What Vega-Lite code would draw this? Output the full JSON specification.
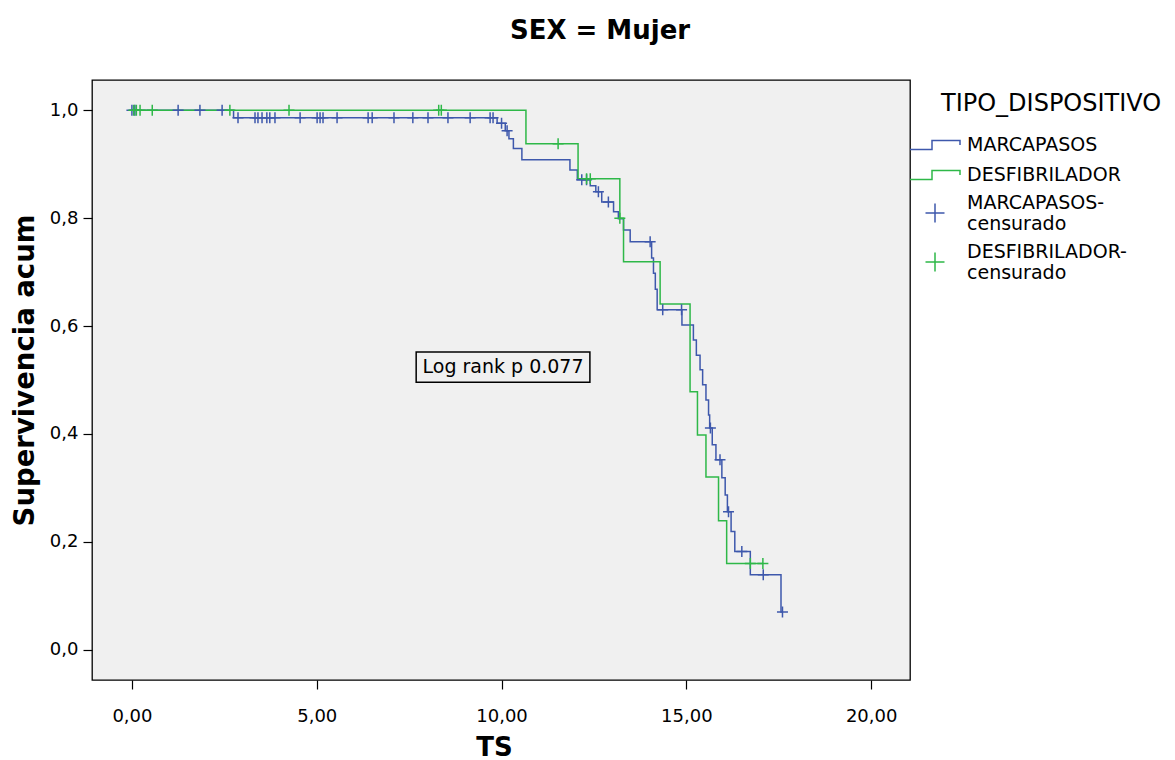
{
  "$schema": "https://vega.github.io/schema/vega-lite/v6.json",
  "width": 818,
  "height": 600,
  "autosize": {"type": "none"},
  "padding": {"left": 92, "top": 80, "right": 265, "bottom": 80},
  "background": "white",
  "config": {
    "font": "DejaVu Sans",
    "view": {"fill": "#f0f0f0", "stroke": "#000000", "strokeWidth": 1.3},
    "axis": {
      "grid": false, "domain": false, "tickColor": "#000000", "tickSize": 9, "tickWidth": 1.2,
      "labelColor": "#000000", "labelFont": "DejaVu Sans", "labelFontSize": 18,
      "titleFont": "DejaVu Sans", "titleFontWeight": "bold", "titleFontSize": 26, "titleColor": "#000000"
    },
    "legend": {
      "orient": "none", "legendX": 849, "legendY": 12,
      "titleFontSize": 24, "titleFontWeight": "normal", "titleColor": "#000000", "titlePadding": 18, "titleLimit": 400,
      "labelFontSize": 19, "labelColor": "#000000", "labelLimit": 300, "labelOffset": 21,
      "symbolSize": 400, "symbolStrokeWidth": 1.5, "symbolOffset": -17, "rowPadding": 9
    }
  },
  "title": {"text": "SEX = Mujer", "fontSize": 26, "fontWeight": "bold", "font": "DejaVu Sans", "color": "#000000", "frame": "group", "dx": 99, "offset": 36},
  "datasets": {
    "pasos": [
      {"serie": "MARCAPASOS", "t": 0, "s": 1.0},
      {"serie": "MARCAPASOS", "t": 2.75, "s": 0.986},
      {"serie": "MARCAPASOS", "t": 9.88, "s": 0.976},
      {"serie": "MARCAPASOS", "t": 10.1, "s": 0.962},
      {"serie": "MARCAPASOS", "t": 10.2, "s": 0.947},
      {"serie": "MARCAPASOS", "t": 10.32, "s": 0.929},
      {"serie": "MARCAPASOS", "t": 10.55, "s": 0.908},
      {"serie": "MARCAPASOS", "t": 11.85, "s": 0.889},
      {"serie": "MARCAPASOS", "t": 12.05, "s": 0.871},
      {"serie": "MARCAPASOS", "t": 12.4, "s": 0.86},
      {"serie": "MARCAPASOS", "t": 12.55, "s": 0.849},
      {"serie": "MARCAPASOS", "t": 12.71, "s": 0.83},
      {"serie": "MARCAPASOS", "t": 13.03, "s": 0.812},
      {"serie": "MARCAPASOS", "t": 13.16, "s": 0.799},
      {"serie": "MARCAPASOS", "t": 13.3, "s": 0.778},
      {"serie": "MARCAPASOS", "t": 13.48, "s": 0.756},
      {"serie": "MARCAPASOS", "t": 14.06, "s": 0.726},
      {"serie": "MARCAPASOS", "t": 14.11, "s": 0.698},
      {"serie": "MARCAPASOS", "t": 14.16, "s": 0.668},
      {"serie": "MARCAPASOS", "t": 14.21, "s": 0.63},
      {"serie": "MARCAPASOS", "t": 14.88, "s": 0.602},
      {"serie": "MARCAPASOS", "t": 15.19, "s": 0.574},
      {"serie": "MARCAPASOS", "t": 15.27, "s": 0.546},
      {"serie": "MARCAPASOS", "t": 15.37, "s": 0.519},
      {"serie": "MARCAPASOS", "t": 15.44, "s": 0.491},
      {"serie": "MARCAPASOS", "t": 15.53, "s": 0.463},
      {"serie": "MARCAPASOS", "t": 15.6, "s": 0.435},
      {"serie": "MARCAPASOS", "t": 15.63, "s": 0.411},
      {"serie": "MARCAPASOS", "t": 15.7, "s": 0.38},
      {"serie": "MARCAPASOS", "t": 15.8, "s": 0.352},
      {"serie": "MARCAPASOS", "t": 15.96, "s": 0.319},
      {"serie": "MARCAPASOS", "t": 16.05, "s": 0.287},
      {"serie": "MARCAPASOS", "t": 16.11, "s": 0.256},
      {"serie": "MARCAPASOS", "t": 16.21, "s": 0.219},
      {"serie": "MARCAPASOS", "t": 16.31, "s": 0.182},
      {"serie": "MARCAPASOS", "t": 16.73, "s": 0.139},
      {"serie": "MARCAPASOS", "t": 17.56, "s": 0.07},
      {"serie": "MARCAPASOS", "t": 17.6, "s": 0.07},
      {"serie": "DESFIBRILADOR", "t": 0, "s": 1.0},
      {"serie": "DESFIBRILADOR", "t": 10.66, "s": 0.938},
      {"serie": "DESFIBRILADOR", "t": 12.07, "s": 0.873},
      {"serie": "DESFIBRILADOR", "t": 13.2, "s": 0.8},
      {"serie": "DESFIBRILADOR", "t": 13.3, "s": 0.719},
      {"serie": "DESFIBRILADOR", "t": 14.29, "s": 0.641},
      {"serie": "DESFIBRILADOR", "t": 15.1, "s": 0.478},
      {"serie": "DESFIBRILADOR", "t": 15.3, "s": 0.398},
      {"serie": "DESFIBRILADOR", "t": 15.53, "s": 0.32},
      {"serie": "DESFIBRILADOR", "t": 15.87, "s": 0.239},
      {"serie": "DESFIBRILADOR", "t": 16.09, "s": 0.16},
      {"serie": "DESFIBRILADOR", "t": 17.07, "s": 0.16}
    ],
    "censuras": [
      {"serie": "MARCAPASOS-censurado", "t": 0.0, "s": 1.0},
      {"serie": "MARCAPASOS-censurado", "t": 0.08, "s": 1.0},
      {"serie": "MARCAPASOS-censurado", "t": 1.25, "s": 1.0},
      {"serie": "MARCAPASOS-censurado", "t": 1.84, "s": 1.0},
      {"serie": "MARCAPASOS-censurado", "t": 2.44, "s": 1.0},
      {"serie": "MARCAPASOS-censurado", "t": 2.87, "s": 0.986},
      {"serie": "MARCAPASOS-censurado", "t": 3.33, "s": 0.986},
      {"serie": "MARCAPASOS-censurado", "t": 3.41, "s": 0.986},
      {"serie": "MARCAPASOS-censurado", "t": 3.52, "s": 0.986},
      {"serie": "MARCAPASOS-censurado", "t": 3.65, "s": 0.986},
      {"serie": "MARCAPASOS-censurado", "t": 3.73, "s": 0.986},
      {"serie": "MARCAPASOS-censurado", "t": 3.87, "s": 0.986},
      {"serie": "MARCAPASOS-censurado", "t": 4.55, "s": 0.986},
      {"serie": "MARCAPASOS-censurado", "t": 5.01, "s": 0.986},
      {"serie": "MARCAPASOS-censurado", "t": 5.09, "s": 0.986},
      {"serie": "MARCAPASOS-censurado", "t": 5.17, "s": 0.986},
      {"serie": "MARCAPASOS-censurado", "t": 5.55, "s": 0.986},
      {"serie": "MARCAPASOS-censurado", "t": 6.39, "s": 0.986},
      {"serie": "MARCAPASOS-censurado", "t": 6.5, "s": 0.986},
      {"serie": "MARCAPASOS-censurado", "t": 7.09, "s": 0.986},
      {"serie": "MARCAPASOS-censurado", "t": 7.6, "s": 0.986},
      {"serie": "MARCAPASOS-censurado", "t": 8.01, "s": 0.986},
      {"serie": "MARCAPASOS-censurado", "t": 8.55, "s": 0.986},
      {"serie": "MARCAPASOS-censurado", "t": 9.15, "s": 0.986},
      {"serie": "MARCAPASOS-censurado", "t": 9.69, "s": 0.986},
      {"serie": "MARCAPASOS-censurado", "t": 9.77, "s": 0.986},
      {"serie": "MARCAPASOS-censurado", "t": 10.0, "s": 0.976},
      {"serie": "MARCAPASOS-censurado", "t": 10.15, "s": 0.962},
      {"serie": "MARCAPASOS-censurado", "t": 12.17, "s": 0.871},
      {"serie": "MARCAPASOS-censurado", "t": 12.3, "s": 0.871},
      {"serie": "MARCAPASOS-censurado", "t": 12.62, "s": 0.849},
      {"serie": "MARCAPASOS-censurado", "t": 12.89, "s": 0.83},
      {"serie": "MARCAPASOS-censurado", "t": 14.02, "s": 0.756},
      {"serie": "MARCAPASOS-censurado", "t": 14.36, "s": 0.63},
      {"serie": "MARCAPASOS-censurado", "t": 14.87, "s": 0.63},
      {"serie": "MARCAPASOS-censurado", "t": 15.65, "s": 0.411},
      {"serie": "MARCAPASOS-censurado", "t": 15.91, "s": 0.352},
      {"serie": "MARCAPASOS-censurado", "t": 16.14, "s": 0.256},
      {"serie": "MARCAPASOS-censurado", "t": 16.5, "s": 0.182},
      {"serie": "MARCAPASOS-censurado", "t": 17.08, "s": 0.139},
      {"serie": "MARCAPASOS-censurado", "t": 17.6, "s": 0.07},
      {"serie": "DESFIBRILADOR-censurado", "t": 0.05, "s": 1.0},
      {"serie": "DESFIBRILADOR-censurado", "t": 0.12, "s": 1.0},
      {"serie": "DESFIBRILADOR-censurado", "t": 0.22, "s": 1.0},
      {"serie": "DESFIBRILADOR-censurado", "t": 0.55, "s": 1.0},
      {"serie": "DESFIBRILADOR-censurado", "t": 2.65, "s": 1.0},
      {"serie": "DESFIBRILADOR-censurado", "t": 4.25, "s": 1.0},
      {"serie": "DESFIBRILADOR-censurado", "t": 8.3, "s": 1.0},
      {"serie": "DESFIBRILADOR-censurado", "t": 8.37, "s": 1.0},
      {"serie": "DESFIBRILADOR-censurado", "t": 11.53, "s": 0.938},
      {"serie": "DESFIBRILADOR-censurado", "t": 12.3, "s": 0.873},
      {"serie": "DESFIBRILADOR-censurado", "t": 12.4, "s": 0.873},
      {"serie": "DESFIBRILADOR-censurado", "t": 13.2, "s": 0.8},
      {"serie": "DESFIBRILADOR-censurado", "t": 16.73, "s": 0.16},
      {"serie": "DESFIBRILADOR-censurado", "t": 17.07, "s": 0.16}
    ],
    "nota": [{"texto": "Log rank p 0.077"}]
  },
  "layer": [
    {
      "data": {"name": "pasos"},
      "mark": {"type": "line", "interpolate": "step-after", "strokeWidth": 1.5},
      "encoding": {
        "x": {
          "field": "t", "type": "quantitative",
          "scale": {"domain": [-1.08, 21.05], "nice": false, "zero": false},
          "axis": {"values": [0, 5, 10, 15, 20], "format": ".2f", "labelExpr": "replace(datum.label, '.', ',')", "labelPadding": 18, "title": "TS", "titlePadding": 9, "titleX": 402}
        },
        "y": {
          "field": "s", "type": "quantitative",
          "scale": {"domain": [-0.056, 1.056], "nice": false, "zero": false},
          "axis": {"values": [0, 0.2, 0.4, 0.6, 0.8, 1.0], "format": ".1f", "labelExpr": "replace(datum.label, '.', ',')", "labelPadding": 5, "title": "Supervivencia acum", "titlePadding": 10, "titleFontSize": 27.5, "titleY": 290}
        },
        "color": {
          "field": "serie", "type": "nominal", "title": "TIPO_DISPOSITIVO",
          "scale": {"domain": ["MARCAPASOS", "DESFIBRILADOR", "MARCAPASOS-censurado", "DESFIBRILADOR-censurado"], "range": ["#3e58ac", "#2eb848", "#3e58ac", "#2eb848"]},
          "legend": {
            "labelExpr": "datum.label == 'MARCAPASOS-censurado' ? ['MARCAPASOS-', 'censurado'] : datum.label == 'DESFIBRILADOR-censurado' ? ['DESFIBRILADOR-', 'censurado'] : datum.label",
            "encode": {"labels": {"update": {"dy": {"signal": "indexof(datum.value, 'censurado') >= 0 ? -10 : 0"}}}}
          }
        }
      }
    },
    {
      "data": {"name": "censuras"},
      "mark": {"type": "point", "filled": false, "strokeWidth": 1.5, "size": 134, "opacity": 1},
      "encoding": {
        "x": {"field": "t", "type": "quantitative"},
        "y": {"field": "s", "type": "quantitative"},
        "color": {"field": "serie", "type": "nominal", "title": "TIPO_DISPOSITIVO"},
        "shape": {
          "field": "serie", "type": "nominal", "title": "TIPO_DISPOSITIVO",
          "scale": {"domain": ["MARCAPASOS", "DESFIBRILADOR", "MARCAPASOS-censurado", "DESFIBRILADOR-censurado"], "range": ["M-2.5,0.45H-0.3V-0.45H2.5V0", "M-2.5,0.45H-0.3V-0.45H2.5V0", "M-0.95,0H0.95M0,-0.95V0.95", "M-0.95,0H0.95M0,-0.95V0.95"]},
          "legend": {
            "labelExpr": "datum.label == 'MARCAPASOS-censurado' ? ['MARCAPASOS-', 'censurado'] : datum.label == 'DESFIBRILADOR-censurado' ? ['DESFIBRILADOR-', 'censurado'] : datum.label",
            "encode": {"labels": {"update": {"dy": {"signal": "indexof(datum.value, 'censurado') >= 0 ? -10 : 0"}}}}
          }
        }
      }
    },
    {
      "data": {"name": "nota"},
      "mark": {"type": "rect", "fill": "#f0f0f0", "stroke": "#000000", "strokeWidth": 1.5},
      "encoding": {
        "x": {"datum": 7.69, "type": "quantitative"},
        "x2": {"datum": 12.39},
        "y": {"datum": 0.552, "type": "quantitative"},
        "y2": {"datum": 0.496}
      }
    },
    {
      "data": {"name": "nota"},
      "mark": {"type": "text", "fontSize": 19, "font": "DejaVu Sans", "color": "#000000", "align": "center", "baseline": "middle"},
      "encoding": {
        "text": {"field": "texto"},
        "x": {"datum": 10.04, "type": "quantitative"},
        "y": {"datum": 0.524, "type": "quantitative"}
      }
    }
  ]
}
